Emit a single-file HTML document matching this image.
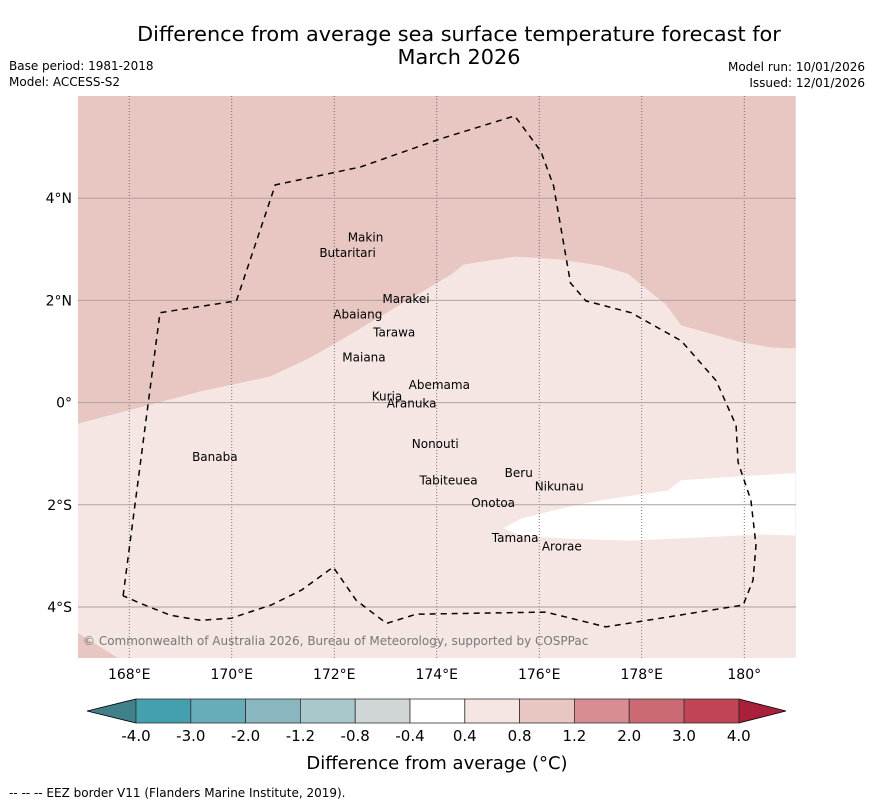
<!DOCTYPE html>
<html><head><meta charset="utf-8"><style>
body{margin:0;background:#fff;font-family:"Liberation Sans","DejaVu Sans",sans-serif;}
svg text{font-family:"DejaVu Sans","Liberation Sans",sans-serif;}
</style></head><body>
<svg id="c" width="873" height="804" xmlns="http://www.w3.org/2000/svg">
<text x="459" y="41" font-size="20.8" text-anchor="middle">Difference from average sea surface temperature forecast for</text>
<text x="459" y="64" font-size="20.8" text-anchor="middle">March 2026</text>
<text x="9" y="70" font-size="12">Base period: 1981-2018</text>
<text x="9" y="86" font-size="12">Model: ACCESS-S2</text>
<text x="865" y="71" font-size="12" text-anchor="end">Model run: 10/01/2026</text>
<text x="865" y="87" font-size="12" text-anchor="end">Issued: 12/01/2026</text>
<defs><clipPath id="mc"><rect x="78" y="96" width="718" height="562"/></clipPath></defs>
<g id="map" clip-path="url(#mc)"></g>
<g id="axes"></g>
<g id="cbar"></g>
<text x="437" y="769" font-size="18" text-anchor="middle">Difference from average (°C)</text>
<text x="9" y="797" font-size="12">--  --  -- EEZ border V11 (Flanders Marine Institute, 2019).</text>
</svg>
<script>
const lonTicks=[168,170,172,174,176,178,180];
const lonLabels=["168°E","170°E","172°E","174°E","176°E","178°E","180°"];
const latTicks=[4,2,0,-2,-4];
const latLabels=["4°N","2°N","0°","2°S","4°S"];
const cbBounds=["-4.0","-3.0","-2.0","-1.2","-0.8","-0.4","0.4","0.8","1.2","2.0","3.0","4.0"];
const cbColors=["#449fae","#67adb9","#88b7bf","#a9c8cb","#d0d5d5","#ffffff","#f5e6e4","#e8c6c1","#d88d94","#cc6a73","#c04453"];
// region boundaries [lon,lat]
const warmEdge=[[167,-0.41],[168.41,-0.04],[169.39,0.22],[170.75,0.51],[171.53,0.88],[172.31,1.33],[173.29,1.92],[174.27,2.50],[174.52,2.70],[175.54,2.86],[176.42,2.80],[177.20,2.68],[177.73,2.52],[178.47,1.92],[178.77,1.51],[179.94,1.18],[180.52,1.08],[181,1.06]];
const coolPatch=[[181,-1.38],[179.94,-1.44],[178.77,-1.52],[178.51,-1.72],[177.20,-1.91],[176.52,-2.05],[175.64,-2.27],[175.30,-2.46],[175.64,-2.60],[176.42,-2.66],[177.79,-2.70],[179.16,-2.64],[180.33,-2.58],[181,-2.60]];
const cornerPatch=[[167,-4.51],[167.78,-5],[167,-5]];
const eez=[[167.88,-3.78],[168.60,1.76],[170.09,1.99],[170.85,4.26],[172.51,4.61],[174.07,5.16],[175.52,5.61],[176.03,4.92],[176.28,4.24],[176.61,2.34],[176.91,1.99],[177.79,1.76],[178.77,1.21],[179.45,0.43],[179.84,-0.45],[179.88,-1.17],[180.13,-1.91],[180.23,-2.79],[180.17,-3.48],[179.98,-3.96],[177.30,-4.39],[176.13,-4.10],[173.60,-4.14],[173.02,-4.32],[172.43,-3.87],[171.98,-3.22],[171.36,-3.67],[170.77,-3.96],[169.99,-4.22],[169.39,-4.26],[168.80,-4.16],[168.22,-3.93],[167.88,-3.78]];
const islandNames=["Makin","Butaritari","Marakei","Abaiang","Tarawa","Maiana","Abemama","Kuria","Aranuka","Nonouti","Banaba","Beru","Nikunau","Tabiteuea","Onotoa","Tamana","Arorae"];
const islandLon=[172.61,172.26,173.40,172.46,173.17,172.58,174.05,173.03,173.51,173.97,169.67,175.6,176.39,174.23,175.1,175.53,176.44];
const islandLat=[3.23,2.93,2.03,1.72,1.37,0.88,0.34,0.12,-0.02,-0.81,-1.06,-1.38,-1.64,-1.52,-1.96,-2.65,-2.82];
const x=l=>78+(l-167)*51.25, y=l=>96+(6-l)*51.1;
const NS="http://www.w3.org/2000/svg";
function mk(t,p,a){const e=document.createElementNS(NS,t);for(const k in a)e.setAttribute(k,a[k]);p.appendChild(e);return e;}
const map=document.getElementById('map'),axes=document.getElementById('axes'),cb=document.getElementById('cbar');
let e=mk('rect',map,{x:78,y:96,width:718,height:562,fill:'#f5e6e4'});


const pts=a=>a.map(p=>x(p[0]).toFixed(1)+','+y(p[1]).toFixed(1)).join(' ');
e=mk('polygon',map,{points:x(167)+','+y(6)+' '+pts(warmEdge)+' '+x(181)+','+y(6),fill:'#e8c6c1'});


e=mk('polygon',map,{points:pts(coolPatch),fill:'#ffffff'});


e=mk('polygon',map,{points:pts(cornerPatch),fill:'#e8c6c1'});


lonTicks.forEach((l,i)=>{
 e=mk('line',map,{x1:x(l),x2:x(l),y1:96,y2:658,stroke:'#555','stroke-width':0.8,'stroke-dasharray':'1,2'});
 
 
 e=mk('text',axes,{x:x(l),y:679,'font-size':14,'text-anchor':'middle'});e.textContent=lonLabels[i];
 
 
});
latTicks.forEach((l,i)=>{
 e=mk('line',map,{x1:78,x2:796,y1:y(l),y2:y(l),stroke:'#b0a0a0','stroke-width':1});
 
 
 e=mk('text',axes,{x:72,y:y(l)+5,'font-size':14,'text-anchor':'end'});e.textContent=latLabels[i];
 
 
});
e=mk('polyline',map,{points:pts(eez),fill:'none',stroke:'#000','stroke-width':1.5,'stroke-dasharray':'6,5'});


islandNames.forEach((n,i)=>{
 e=mk('text',map,{x:x(islandLon[i]),y:y(islandLat[i])+4,'font-size':12,'text-anchor':'middle'});e.textContent=n;
 
 
});
e=mk('text',map,{x:83,y:645,'font-size':12,fill:'#777'});e.textContent='© Commonwealth of Australia 2026, Bureau of Meteorology, supported by COSPPac';


// colorbar
const cx0=136,cw=54.8,cy=699,ch=24;
e=mk('polygon',cb,{points:`${cx0},${cy} ${cx0},${cy+ch} 87,${cy+ch/2}`,fill:'#3f8089',stroke:'#000','stroke-width':0.8});


const xe=cx0+cw*cbColors.length;
e=mk('polygon',cb,{points:`${xe},${cy} ${xe},${cy+ch} 786,${cy+ch/2}`,fill:'#a8203c',stroke:'#000','stroke-width':0.8});


cbColors.forEach((c,i)=>{
 e=mk('rect',cb,{x:cx0+i*cw,y:cy,width:cw,height:ch,fill:c,stroke:'#333','stroke-width':0.8});
 
 
});
cbBounds.forEach((b,i)=>{
 e=mk('text',cb,{x:cx0+i*cw,y:741,'font-size':15,'text-anchor':'middle'});e.textContent=b;
 
 
});
</script>
</body></html>
